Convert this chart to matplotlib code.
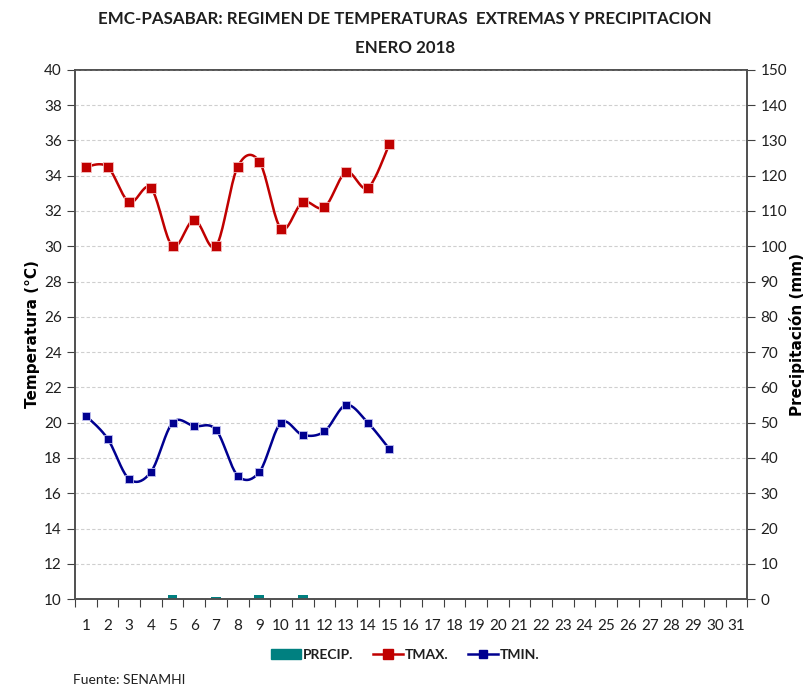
import numpy as np
import matplotlib
matplotlib.use("Agg")
import matplotlib.pyplot as plt
from matplotlib.lines import Line2D
from matplotlib.patches import Patch

# datos
dias = list(range(1, 32))
dias_obs = list(range(1, 16))
tmax = [34.5, 34.5, 32.5, 33.3, 30.0, 31.5, 30.0, 34.5, 34.8, 31.0, 32.5, 32.2, 34.2, 33.3, 35.8]
tmin = [20.4, 19.1, 16.8, 17.2, 20.0, 19.8, 19.6, 17.0, 17.2, 20.0, 19.3, 19.5, 21.0, 20.0, 18.5]
dias_pp = [5, 7, 9, 11]
precip = [1.3, 0.5, 1.3, 1.3]

texto = '#1f1f1f'
rojo = '#c00000'
azul = '#000090'
verde = '#008080'


def suavizar(x, y, n=20):
    # curva suavizada tipo excel (catmull-rom) solo para el trazo
    x = np.asarray(x, float)
    y = np.asarray(y, float)
    px = np.concatenate([[x[0]], x, [x[-1]]])
    py = np.concatenate([[y[0]], y, [y[-1]]])
    xs, ys = [], []
    t = np.linspace(0, 1, n, endpoint=False)
    for i in range(1, len(px) - 2):
        p0, p1, p2, p3 = px[i-1], px[i], px[i+1], px[i+2]
        q0, q1, q2, q3 = py[i-1], py[i], py[i+1], py[i+2]
        for a, b, c, d, out in ((p0, p1, p2, p3, xs), (q0, q1, q2, q3, ys)):
            out.extend(0.5 * (2*b + (-a + c)*t + (2*a - 5*b + 4*c - d)*t**2 + (-a + 3*b - 3*c + d)*t**3))
    xs.append(x[-1])
    ys.append(y[-1])
    return xs, ys


fig = plt.figure(figsize=(8.1, 6.91), dpi=100)
ax = fig.add_axes([0.0926, 0.133, 0.83, 0.766])
ax2 = ax.twinx()

ax.set_xlim(0.5, 31.5)
ax.set_ylim(10, 40)
ax2.set_ylim(0, 150)

ax2.bar(dias_pp, precip, width=0.45, color=verde, zorder=2)

xs, ys = suavizar(dias_obs, tmax)
ax.plot(xs, ys, color=rojo, lw=1.8, zorder=3)
ax.plot(dias_obs, tmax, ls='none', marker='s', ms=7, color=rojo, mec='#f4c0c0', mew=0.6, zorder=4)
xs, ys = suavizar(dias_obs, tmin)
ax.plot(xs, ys, color=azul, lw=1.8, zorder=3)
ax.plot(dias_obs, tmin, ls='none', marker='s', ms=6, color=azul, mec='#c0c0f0', mew=0.6, zorder=4)

ax.set_zorder(ax2.get_zorder() + 1)
ax.patch.set_visible(False)

ax.set_yticks(range(10, 41, 2))
ax.yaxis.grid(True, ls=(0, (3, 2)), color='#cfcfcf', lw=0.8)
ax.set_axisbelow(True)
ax2.set_yticks(range(0, 151, 10))

# marcas en los limites de categoria, etiquetas al centro
ax.set_xticks(np.arange(0.5, 32, 1))
ax.set_xticks(dias, minor=True)
ax.set_xticklabels([])
ax.set_xticklabels([str(d) for d in dias], minor=True)
ax.tick_params(axis='x', which='major', length=6, direction='out', color='#404040')
ax.tick_params(axis='x', which='minor', length=0, pad=14, labelsize=11, labelcolor=texto)
ax.tick_params(axis='y', length=6, color='#404040', labelsize=11, labelcolor=texto)
ax2.tick_params(axis='y', length=6, color='#404040', labelsize=11, labelcolor=texto)

for a in (ax, ax2):
    for s in a.spines.values():
        s.set_color('#505050')
        s.set_linewidth(1.2)
    for lb in a.get_xticklabels(minor=True) + a.get_yticklabels():
        lb.set_family('Lato')

ax.set_ylabel('Temperatura (°C)', fontsize=11, fontweight='bold', family='DejaVu Sans', color='black', labelpad=3)
ax2.set_ylabel('Precipitación (mm)', fontsize=11, fontweight='bold', family='DejaVu Sans', color='black',
               rotation=90, labelpad=1)

fig.text(0.5, 0.972, 'EMC-PASABAR: REGIMEN DE TEMPERATURAS  EXTREMAS Y PRECIPITACION',
         ha='center', va='center', fontsize=12.2, fontweight='bold', family='Lato', color=texto)
fig.text(0.5, 0.93, 'ENERO 2018', ha='center', va='center', fontsize=12.2, fontweight='bold',
         family='Lato', color=texto)

handles = [Patch(color=verde, label='PRECIP.'),
           Line2D([], [], color=rojo, marker='s', ms=7, lw=1.8, label='TMAX.'),
           Line2D([], [], color=azul, marker='s', ms=6, lw=1.8, label='TMIN.')]
leg = fig.legend(handles=handles, loc='center', bbox_to_anchor=(0.5, 0.052), ncol=3, frameon=False,
                 handlelength=2.2, handletextpad=0.1, columnspacing=1.4,
                 prop={'family': 'Lato', 'weight': 'bold', 'size': 10})
for t in leg.get_texts():
    t.set_color(texto)

fig.text(0.09, 0.01, 'Fuente: SENAMHI', fontsize=10, family='Lato', color=texto)

fig.savefig('out.png', dpi=100)
